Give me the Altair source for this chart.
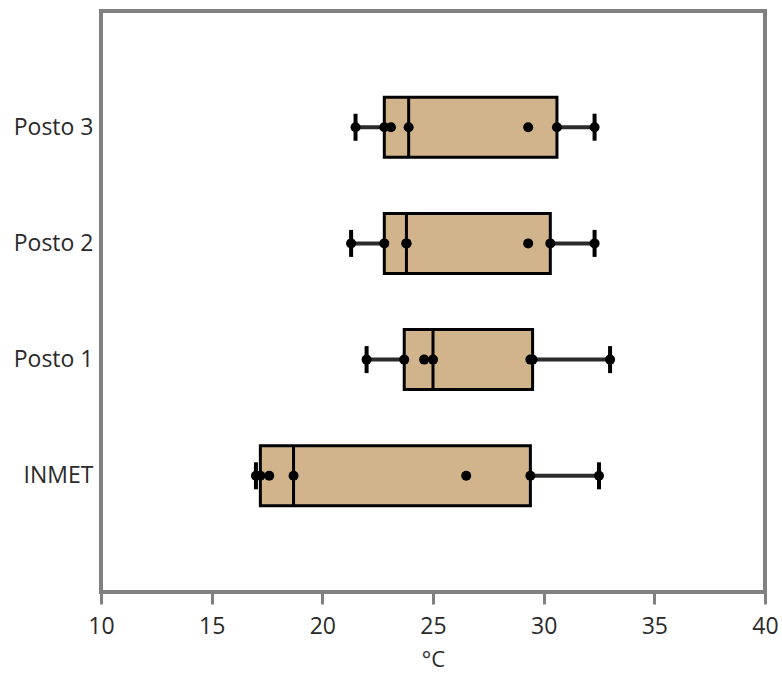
import altair as alt
import numpy as np
import pandas as pd

categories = ["Posto 3", "Posto 2", "Posto 1", "INMET"]
posto3 = [21.5, 22.8, 23.1, 23.9, 29.3, 30.6, 32.3]
posto2 = [21.3, 22.8, 23.8, 23.8, 29.3, 30.3, 32.3]
posto1 = [22.0, 23.7, 24.6, 25.0, 29.4, 29.5, 33.0]
inmet = [17.0, 17.2, 17.6, 18.7, 26.5, 29.4, 32.5]
x_ticks = [10, 15, 20, 25, 30, 35, 40]

series = {"Posto 3": posto3, "Posto 2": posto2, "Posto 1": posto1, "INMET": inmet}

pts = pd.DataFrame(
    [{"cat": c, "v": v} for c in categories for v in series[c]]
)
rows = []
for c in categories:
    a = np.array(series[c])
    q1, med, q3 = np.percentile(a, [25, 50, 75], method="weibull")
    rows.append({"cat": c, "lo": a.min(), "q1": q1, "med": med, "q3": q3, "hi": a.max()})
summ = pd.DataFrame(rows)

font = "Open Sans"
y_enc = alt.Y(
    "cat:N",
    sort=categories,
    scale=alt.Scale(type="point", padding=1),
    axis=alt.Axis(
        title=None, ticks=False, domain=False, labelPadding=8,
        labelFontSize=23, labelFont=font, labelColor="#2a2a2a", grid=False,
    ),
)
x_scale = alt.Scale(domain=[10, 40], nice=False, zero=False)
x_axis = alt.Axis(
    values=x_ticks, title="°C", titleFont=font, titleFontSize=22,
    titleFontWeight="normal", titleColor="#2a2a2a", titlePadding=11,
    labelFont=font, labelFontSize=23, labelColor="#2a2a2a", labelPadding=11,
    labelFlush=False,
    tickColor="#808080", tickWidth=3, tickSize=12, domain=False, grid=False,
)

base = alt.Chart(summ)

whisker = base.mark_rule(color="#2b2b2b", strokeWidth=4).encode(
    x=alt.X("lo:Q", scale=x_scale, axis=x_axis), x2="hi:Q", y=y_enc
)
box = base.mark_bar(size=60, fill="#D2B48C", stroke="#000000", strokeWidth=3).encode(
    x=alt.X("q1:Q", scale=x_scale), x2="q3:Q", y=alt.Y("cat:N", sort=categories)
)
median = base.mark_tick(size=60, thickness=3, color="#000000", opacity=1).encode(
    x=alt.X("med:Q", scale=x_scale), y=alt.Y("cat:N", sort=categories)
)
cap_lo = base.mark_tick(size=27, thickness=4, color="#000000", opacity=1).encode(
    x=alt.X("lo:Q", scale=x_scale), y=alt.Y("cat:N", sort=categories)
)
cap_hi = base.mark_tick(size=27, thickness=4, color="#000000", opacity=1).encode(
    x=alt.X("hi:Q", scale=x_scale), y=alt.Y("cat:N", sort=categories)
)
points = alt.Chart(pts).mark_circle(size=100, color="#000000", opacity=1).encode(
    x=alt.X("v:Q", scale=x_scale), y=alt.Y("cat:N", sort=categories)
)

chart = (
    alt.layer(whisker, box, median, cap_lo, cap_hi, points)
    .properties(
        width=664, height=581,
        autosize=alt.AutoSizeParams(type="none"),
        padding={"left": 101, "top": 11, "right": 17, "bottom": 83},
        view=alt.ViewBackground(stroke="#808080", strokeWidth=4, strokeOpacity=1),
    )
    .configure_view(stroke="#808080", strokeWidth=4, strokeOpacity=1)
    .configure(background="white")
)

chart.save("out.html", embed_options={"renderer": "svg", "actions": False})
